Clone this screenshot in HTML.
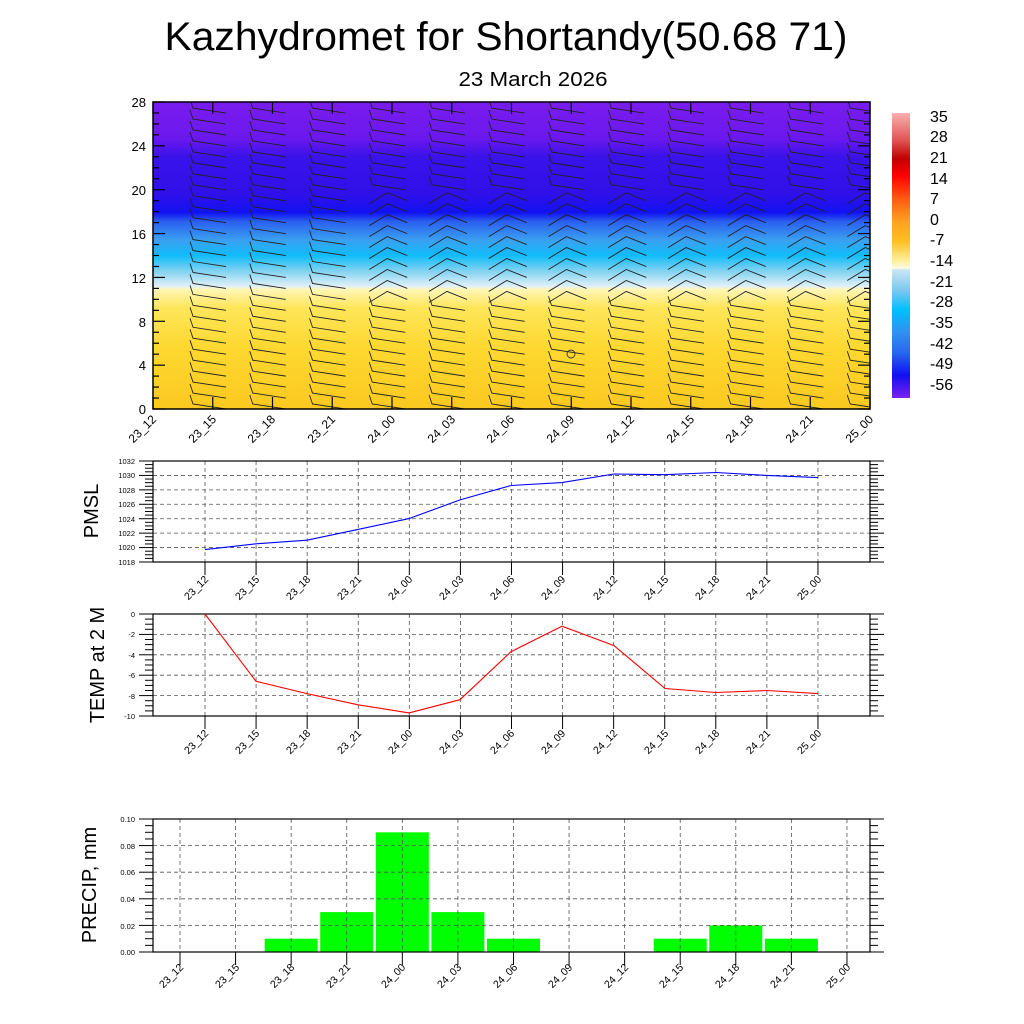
<!DOCTYPE html>
<html><head><meta charset="utf-8"><style>html,body{margin:0;padding:0;background:#fff}svg{display:block}text{font-family:"Liberation Sans",sans-serif;fill:#000}</style></head>
<body>
<svg id="s" width="1024" height="1024" viewBox="0 0 1024 1024" xmlns="http://www.w3.org/2000/svg">
<defs>
<clipPath id="cp"><rect x="153" y="102" width="717" height="307"/></clipPath>
<linearGradient id="fill" x1="0" y1="102" x2="0" y2="409" gradientUnits="userSpaceOnUse">
<stop offset="0" stop-color="#7a1cee"/>
<stop offset="0.12" stop-color="#6a18ee"/>
<stop offset="0.18" stop-color="#3a12ea"/>
<stop offset="0.3" stop-color="#3010e8"/>
<stop offset="0.36" stop-color="#1212f2"/>
<stop offset="0.39" stop-color="#2a60f0"/>
<stop offset="0.45" stop-color="#3aa0f0"/>
<stop offset="0.5" stop-color="#10bcfb"/>
<stop offset="0.55" stop-color="#80d2f0"/>
<stop offset="0.6" stop-color="#e0f0f8"/>
<stop offset="0.61" stop-color="#fff6b8"/>
<stop offset="0.67" stop-color="#fee65a"/>
<stop offset="0.8" stop-color="#fdd830"/>
<stop offset="1" stop-color="#fbc920"/>
</linearGradient>
<linearGradient id="cb" x1="0" y1="113" x2="0" y2="398" gradientUnits="userSpaceOnUse">
<stop offset="0" stop-color="#f8b0b0"/>
<stop offset="0.1" stop-color="#e05050"/>
<stop offset="0.16" stop-color="#c00000"/>
<stop offset="0.22" stop-color="#ff0000"/>
<stop offset="0.3" stop-color="#ff5a10"/>
<stop offset="0.38" stop-color="#ffa020"/>
<stop offset="0.45" stop-color="#ffc020"/>
<stop offset="0.52" stop-color="#fff0a0"/>
<stop offset="0.545" stop-color="#fffbe0"/>
<stop offset="0.55" stop-color="#c8e6f5"/>
<stop offset="0.62" stop-color="#80c8ec"/>
<stop offset="0.69" stop-color="#00c0ff"/>
<stop offset="0.77" stop-color="#3090f0"/>
<stop offset="0.84" stop-color="#2868f0"/>
<stop offset="0.92" stop-color="#1010f0"/>
<stop offset="1" stop-color="#7a20f0"/>
</linearGradient>
</defs>

<text x="506" y="50" font-size="40" text-anchor="middle" textLength="683" lengthAdjust="spacingAndGlyphs">Kazhydromet for Shortandy(50.68 71)</text>
<text x="533" y="86" font-size="20" text-anchor="middle" textLength="149" lengthAdjust="spacingAndGlyphs">23 March 2026</text>

<rect x="153" y="102" width="717" height="307" fill="url(#fill)"/>
<g id="barbs" stroke="#222" stroke-width="0.9" fill="none" clip-path="url(#cp)"></g>
<circle cx="571" cy="354" r="4" fill="none" stroke="#333" stroke-width="0.9"/>
<rect x="153" y="102" width="717" height="307" fill="none" stroke="#000" stroke-width="1.5"/>
<g id="topticks" stroke="#000" stroke-width="1.2"></g>
<g font-size="13" text-anchor="end">
<text x="146" y="107">28</text><text x="146" y="151">24</text><text x="146" y="195">20</text><text x="146" y="239">16</text><text x="146" y="283">12</text><text x="146" y="327">8</text><text x="146" y="370">4</text><text x="146" y="414">0</text>
</g>
<g font-size="12" text-anchor="end">
<text transform="translate(157,420) rotate(-45)">23_12</text>
<text transform="translate(217,420) rotate(-45)">23_15</text>
<text transform="translate(276,420) rotate(-45)">23_18</text>
<text transform="translate(336,420) rotate(-45)">23_21</text>
<text transform="translate(396,420) rotate(-45)">24_00</text>
<text transform="translate(456,420) rotate(-45)">24_03</text>
<text transform="translate(515,420) rotate(-45)">24_06</text>
<text transform="translate(575,420) rotate(-45)">24_09</text>
<text transform="translate(635,420) rotate(-45)">24_12</text>
<text transform="translate(695,420) rotate(-45)">24_15</text>
<text transform="translate(754,420) rotate(-45)">24_18</text>
<text transform="translate(814,420) rotate(-45)">24_21</text>
<text transform="translate(874,420) rotate(-45)">25_00</text>
</g>

<rect x="892" y="113" width="18" height="285" fill="url(#cb)"/>
<g font-size="16">
<text x="930" y="122">35</text><text x="930" y="142">28</text><text x="930" y="163">21</text><text x="930" y="184">14</text><text x="930" y="204">7</text><text x="930" y="225">0</text><text x="930" y="245">-7</text><text x="930" y="266">-14</text><text x="930" y="287">-21</text><text x="930" y="307">-28</text><text x="930" y="328">-35</text><text x="930" y="349">-42</text><text x="930" y="369">-49</text><text x="930" y="390">-56</text>
</g>

<g id="p1grid" stroke="#555" stroke-width="0.8" stroke-dasharray="4,3" fill="none"></g>
<rect x="153" y="461" width="717" height="101" fill="none" stroke="#000" stroke-width="1.2"/>
<polyline fill="none" stroke="#0000ff" stroke-width="1.1" points="205,549.6 256,543.8 307,540.2 358,529.4 409,518.6 460,499.9 511,485.5 562,482.6 614,474 665,474.7 716,472.5 767,475.4 818,477.6"/>
<g font-size="7.5" text-anchor="end">
<text x="135" y="464">1032</text><text x="135" y="478">1030</text><text x="135" y="493">1028</text><text x="135" y="507">1026</text><text x="135" y="522">1024</text><text x="135" y="536">1022</text><text x="135" y="550">1020</text><text x="135" y="565">1018</text>
</g>
<text transform="translate(98,511) rotate(-90)" font-size="20" text-anchor="middle">PMSL</text>

<g id="p2grid" stroke="#555" stroke-width="0.8" stroke-dasharray="4,3" fill="none"></g>
<rect x="153" y="614" width="717" height="102" fill="none" stroke="#000" stroke-width="1.2"/>
<polyline fill="none" stroke="#ff0000" stroke-width="1.1" points="205,614 256,681.3 307,693.6 358,704.8 409,712.9 460,699.7 511,651.7 562,626.2 614,645.6 665,688.5 716,692.5 767,690.5 818,693.6"/>
<g font-size="7.5" text-anchor="end">
<text x="135" y="617">0</text><text x="135" y="637">-2</text><text x="135" y="658">-4</text><text x="135" y="678">-6</text><text x="135" y="699">-8</text><text x="135" y="719">-10</text>
</g>
<text transform="translate(104,665) rotate(-90)" font-size="20" text-anchor="middle">TEMP at 2 M</text>

<g id="p3bars" fill="#00ff00"></g>
<g id="p3grid" stroke="#555" stroke-width="0.8" stroke-dasharray="4,3" fill="none"></g>
<rect x="153" y="819" width="717" height="133" fill="none" stroke="#000" stroke-width="1.2"/>
<g font-size="7.5" text-anchor="end">
<text x="135" y="822">0.10</text><text x="135" y="849">0.08</text><text x="135" y="875">0.06</text><text x="135" y="902">0.04</text><text x="135" y="929">0.02</text><text x="135" y="955">0.00</text>
</g>
<text transform="translate(96,885) rotate(-90)" font-size="20" text-anchor="middle">PRECIP, mm</text>

<g font-size="10.5" text-anchor="end">
<text transform="translate(209,580) rotate(-45)">23_12</text><text transform="translate(260,580) rotate(-45)">23_15</text><text transform="translate(311,580) rotate(-45)">23_18</text><text transform="translate(362,580) rotate(-45)">23_21</text><text transform="translate(413,580) rotate(-45)">24_00</text><text transform="translate(464,580) rotate(-45)">24_03</text><text transform="translate(515,580) rotate(-45)">24_06</text><text transform="translate(566,580) rotate(-45)">24_09</text><text transform="translate(618,580) rotate(-45)">24_12</text><text transform="translate(669,580) rotate(-45)">24_15</text><text transform="translate(720,580) rotate(-45)">24_18</text><text transform="translate(771,580) rotate(-45)">24_21</text><text transform="translate(822,580) rotate(-45)">25_00</text>
<text transform="translate(209,734) rotate(-45)">23_12</text><text transform="translate(260,734) rotate(-45)">23_15</text><text transform="translate(311,734) rotate(-45)">23_18</text><text transform="translate(362,734) rotate(-45)">23_21</text><text transform="translate(413,734) rotate(-45)">24_00</text><text transform="translate(464,734) rotate(-45)">24_03</text><text transform="translate(515,734) rotate(-45)">24_06</text><text transform="translate(566,734) rotate(-45)">24_09</text><text transform="translate(618,734) rotate(-45)">24_12</text><text transform="translate(669,734) rotate(-45)">24_15</text><text transform="translate(720,734) rotate(-45)">24_18</text><text transform="translate(771,734) rotate(-45)">24_21</text><text transform="translate(822,734) rotate(-45)">25_00</text>
<text transform="translate(184,968) rotate(-45)">23_12</text><text transform="translate(240,968) rotate(-45)">23_15</text><text transform="translate(295,968) rotate(-45)">23_18</text><text transform="translate(351,968) rotate(-45)">23_21</text><text transform="translate(406,968) rotate(-45)">24_00</text><text transform="translate(462,968) rotate(-45)">24_03</text><text transform="translate(518,968) rotate(-45)">24_06</text><text transform="translate(573,968) rotate(-45)">24_09</text><text transform="translate(629,968) rotate(-45)">24_12</text><text transform="translate(684,968) rotate(-45)">24_15</text><text transform="translate(740,968) rotate(-45)">24_18</text><text transform="translate(795,968) rotate(-45)">24_21</text><text transform="translate(851,968) rotate(-45)">25_00</text>
</g>
<g id="axticks" stroke="#000" stroke-width="1"></g>
</svg>
<script>
var NS="http://www.w3.org/2000/svg";
function el(p,t,a){var e=document.createElementNS(NS,t);for(var k in a)e.setAttribute(k,a[k]);document.getElementById(p).appendChild(e);return e;}
function ln(p,x1,y1,x2,y2){return el(p,"line",{x1:x1,y1:y1,x2:x2,y2:y2});}
for(var c=0;c<12;c++){var x0=190+c*59.75;
 for(var r=0;r<28;r++){var y=404-r*10.96;
  if(r>=10&&r<=19&&c>=3){
   el("barbs","polyline",{points:(x0)+","+(y+8)+" "+(x0+18)+","+(y-3)+" "+(x0+38)+","+(y+5)});
  } else {
   el("barbs","polyline",{points:(x0)+","+(y-9)+" "+(x0+3)+","+(y)+" "+(x0+36)+","+(y+5)});
  }
 }}
for(var i=0;i<=12;i++){var x=153+i*59.75;ln("topticks",x,409,x,397);ln("topticks",x,102,x,114);}
for(var v=0;v<=28;v++){var y=409-v*10.964;var L=(v%4==0)?12:6;ln("topticks",153,y,153+L,y);ln("topticks",870,y,870-L,y);}
function panel(g,top,h,nmaj,nmin,x0,dx){
 for(var i=0;i<=12;i++){var x=x0+i*dx;ln(g,x,top,x,top+h);ln("axticks",x,top+h,x,top+h+13);}
 for(var j=1;j<nmaj;j++){var y=top+h*j/nmaj;ln(g,153,y,870,y);}
 var tot=nmaj*nmin;for(var j=0;j<=tot;j++){var y=top+h*j/tot;var L=(j%nmin==0)?14:8;ln("axticks",870,y,870+L,y);ln("axticks",153-L,y,153,y);}
}
panel("p1grid",461,101,7,4,205,51.08);
panel("p2grid",614,102,5,4,205,51.08);
panel("p3grid",819,133,5,4,180,55.58);
var pv=[0,0,0.01,0.03,0.09,0.03,0.01,0,0,0.01,0.02,0.01,0];
for(var i=0;i<13;i++){if(pv[i]>0){var h=pv[i]/0.1*133;el("p3bars","rect",{x:180+i*55.58-26.5,y:952-h,width:53,height:h});}}
</script>
</body></html>
